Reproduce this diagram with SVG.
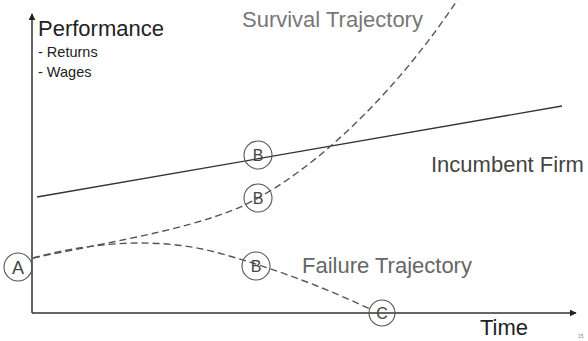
<svg xmlns="http://www.w3.org/2000/svg" width="588" height="341" viewBox="0 0 588 341">
<defs>
<marker id="arr" viewBox="0 0 10 10" refX="9" refY="5" markerWidth="7" markerHeight="7" markerUnits="userSpaceOnUse" orient="auto">
<path d="M0,0 L10,5 L0,10 z" fill="#222"/>
</marker>
</defs>
<style>
text{font-family:"Liberation Sans",Arial,sans-serif}
.axis{stroke:#333;stroke-width:1.5;fill:none}
.solid{stroke:#333;stroke-width:1.3;fill:none}
.dash{stroke:#555;stroke-width:1.4;fill:none;stroke-dasharray:7 4}
.node circle{fill:none;stroke:#555;stroke-width:1.1}
.node text{font-size:16px;fill:#444;text-anchor:middle}
.big{font-size:22px}
.small{font-size:14.5px}
</style>
<rect width="588" height="341" fill="#fff"/>
<g id="connectors">
<path class="axis" d="M32,313 V14" marker-end="url(#arr)"/>
<path class="axis" d="M32,313 H576" marker-end="url(#arr)"/>
<path class="solid" d="M37,197 L562,106"/>
<path class="dash" d="M33,258 C120,240 210,226 258,198 C330,158 405,80 460,-4"/>
<path class="dash" d="M33,258 C80,245 150,235 215,252 C275,268 330,290 372,310"/>
</g>
<g id="labels">
<text x="38" y="36" class="big" fill="#222">Performance</text>
<text x="38" y="57" class="small" fill="#222">- Returns</text>
<text x="38" y="77" class="small" fill="#222">- Wages</text>
<text x="242" y="27" class="big" fill="#777">Survival Trajectory</text>
<text x="431" y="172" class="big" fill="#444">Incumbent Firm</text>
<text x="302" y="273" class="big" fill="#666">Failure Trajectory</text>
<text x="480" y="335" class="big" fill="#222">Time</text>
<text x="578" y="338" font-size="5" fill="#888">15</text>
</g>
<g id="node-A" class="node"><circle cx="18" cy="267" r="14"/><text x="18" y="273.5" style="font-size:18px">A</text></g>
<g id="node-B1" class="node"><circle cx="258" cy="155" r="14"/><text x="258" y="161">B</text></g>
<g id="node-B2" class="node"><circle cx="258" cy="198" r="14"/><text x="258" y="204">B</text></g>
<g id="node-B3" class="node"><circle cx="256" cy="266" r="14"/><text x="256" y="272">B</text></g>
<g id="node-C" class="node"><circle cx="382" cy="313" r="13"/><text x="382" y="319">C</text></g>
</svg>
